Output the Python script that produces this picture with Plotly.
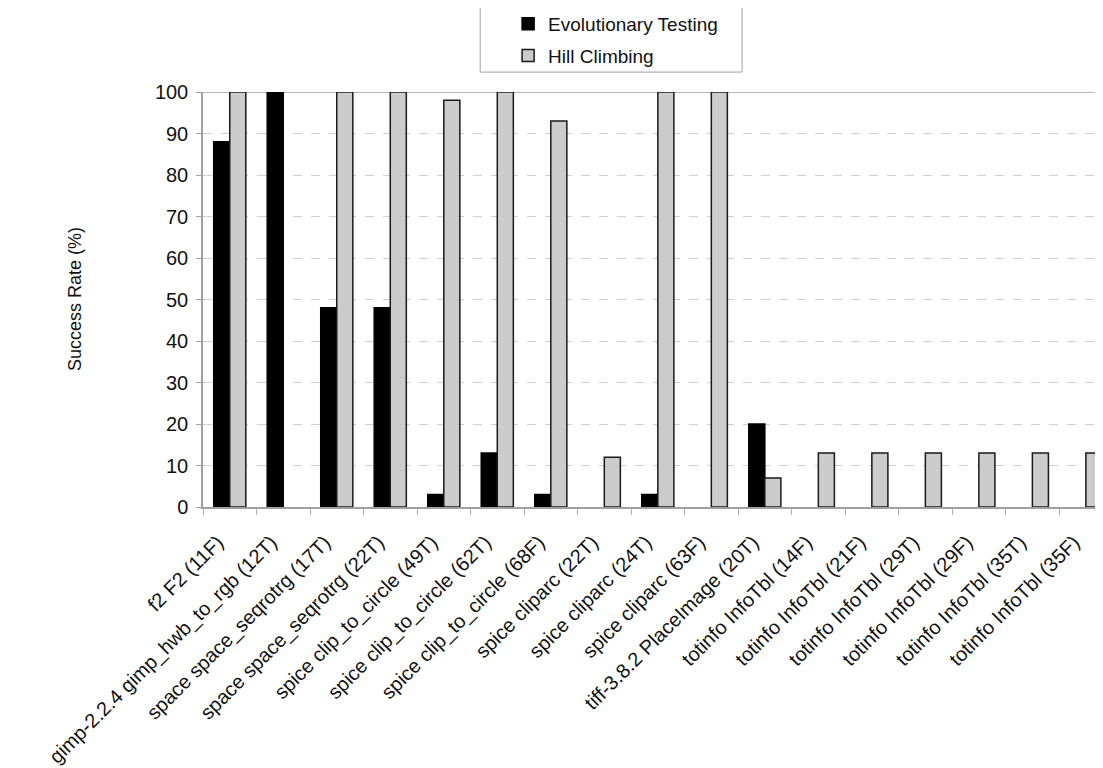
import plotly.graph_objects as go

categories = [
    "f2 F2 (11F)",
    "gimp-2.2.4 gimp_hwb_to_rgb (12T)",
    "space space_seqrotrg (17T)",
    "space space_seqrotrg (22T)",
    "spice clip_to_circle (49T)",
    "spice clip_to_circle (62T)",
    "spice clip_to_circle (68F)",
    "spice cliparc (22T)",
    "spice cliparc (24T)",
    "spice cliparc (63F)",
    "tiff-3.8.2 PlaceImage (20T)",
    "totinfo InfoTbl (14F)",
    "totinfo InfoTbl (21F)",
    "totinfo InfoTbl (29T)",
    "totinfo InfoTbl (29F)",
    "totinfo InfoTbl (35T)",
    "totinfo InfoTbl (35F)",
]
evolutionary_testing = [88, 100, 48, 48, 3, 13, 3, 0, 3, 0, 20, 0, 0, 0, 0, 0, 0]
hill_climbing = [100, 0, 100, 100, 98, 100, 93, 12, 100, 100, 7, 13, 13, 13, 13, 13, 13]
y_ticks = [0, 10, 20, 30, 40, 50, 60, 70, 80, 90, 100]

FONT = "Liberation Sans, Arial, sans-serif"


def nz(values):
    # zero-height bars are not drawn in the original
    return [v if v else None for v in values]


fig = go.Figure()
fig.add_trace(go.Bar(
    x=categories, y=nz(evolutionary_testing), name="Evolutionary Testing",
    marker=dict(color="#000000", line=dict(color="#000000", width=1.5)),
    legendgroup="a",
))
fig.add_trace(go.Bar(
    x=categories, y=nz(hill_climbing), name="Hill Climbing",
    marker=dict(color="#cccccc", line=dict(color="#1a1a1a", width=1.5)),
    legendgroup="b",
))

fig.update_layout(
    width=1095, height=760,
    margin=dict(l=195, r=0, t=84, b=261, autoexpand=False),
    paper_bgcolor="white", plot_bgcolor="white",
    barmode="group", bargap=0.4, bargroupgap=0,
    font=dict(family=FONT, size=18, color="#111111"),
    showlegend=True,
    legend=dict(
        x=0.339, y=1.21, xanchor="left", yanchor="top",
        bgcolor="rgba(0,0,0,0)", borderwidth=0,
        font=dict(family=FONT, size=19, color="#111111"),
        tracegroupgap=4,
    ),
    xaxis=dict(
        type="category", range=[-0.5, 16.32], automargin=False,
        tickangle=-45, tickfont=dict(family=FONT, size=20, color="#111111"),
        ticklabelshift=-12, ticklabelstandoff=14,
        showline=True, linecolor="#a0a0a0", linewidth=1.5,
        ticks="outside", tickson="boundaries", ticklen=6, tickcolor="#b0b0b0",
        showgrid=False, zeroline=False,
    ),
    yaxis=dict(
        range=[0, 100], tickvals=y_ticks, automargin=False,
        tickfont=dict(family=FONT, size=20, color="#111111"),
        ticklabelstandoff=4,
        showline=True, linecolor="#a0a0a0", linewidth=1.5,
        ticks="outside", ticklen=5, tickcolor="#a0a0a0",
        showgrid=True, gridcolor="#cfcfcf", gridwidth=1, griddash="dash",
        zeroline=False,
    ),
    shapes=[
        dict(type="line", xref="paper", yref="y", x0=0, x1=1, y0=100, y1=100,
             line=dict(color="#a0a0a0", width=1.5), layer="below"),
        dict(type="rect", xref="paper", yref="paper",
             x0=0.308, x1=0.599, y0=1.048, y1=1.219,
             line=dict(color="#a0a0a0", width=1)),
    ],
    annotations=[
        dict(text="Success Rate (%)", xref="paper", yref="paper",
             x=-0.156, y=0.5, textangle=-90, showarrow=False,
             font=dict(family=FONT, size=18, color="#111111")),
    ],
)

fig.write_html("out.html")
